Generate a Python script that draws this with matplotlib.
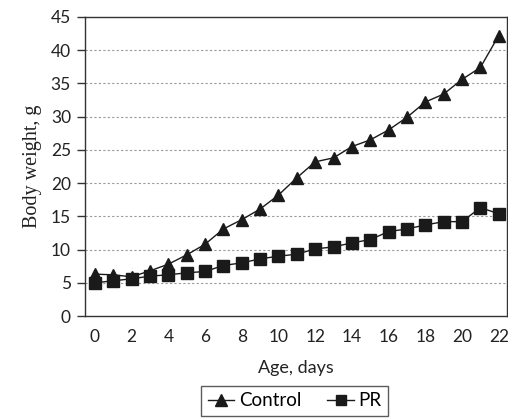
import matplotlib
matplotlib.use("Agg")
import matplotlib.pyplot as plt
from matplotlib.lines import Line2D

# Age in days
days = list(range(0, 23))

# Body weight (g) per group
control = [6.3, 6.2, 5.9, 6.8, 7.8, 9.2, 10.8, 13.1, 14.5, 16.1, 18.2, 20.8,
           23.2, 23.8, 25.5, 26.5, 28.0, 29.9, 32.2, 33.4, 35.6, 37.4, 42.2]
pr = [5.0, 5.3, 5.6, 6.0, 6.2, 6.5, 6.7, 7.6, 8.0, 8.6, 9.0, 9.3,
      10.1, 10.4, 11.0, 11.5, 12.7, 13.1, 13.7, 14.2, 14.2, 16.3, 15.4]

xticks = list(range(0, 23, 2))
yticks = list(range(0, 46, 5))

sans = ["Lato", "DejaVu Sans"]
serif = ["Liberation Serif", "DejaVu Serif"]

fig = plt.figure(figsize=(5.08, 4.2), dpi=100)
ax = fig.add_axes([0.167, 0.2476, 0.831, 0.712])

# Gridlines
for y in yticks[1:-1]:
    ax.axhline(y, color="#999999", linestyle=(0, (2, 2)), linewidth=0.8, zorder=0)

ax.plot(days, control, color="#1a1a1a", linewidth=1.0, marker="^", markersize=9,
        clip_on=False, zorder=3)
ax.plot(days, pr, color="#1a1a1a", linewidth=1.0, marker="s", markersize=8,
        clip_on=False, zorder=3)

ax.set_xlim(-0.55, 22.45)
ax.set_ylim(0, 45)
ax.set_xticks(xticks)
ax.set_yticks(yticks)
ax.tick_params(axis="x", length=0, pad=9, labelsize=12.5)
ax.tick_params(axis="y", direction="out", length=6, width=1, color="#333333",
               pad=4, labelsize=12.5)
for lab in ax.get_xticklabels() + ax.get_yticklabels():
    lab.set_family(sans)
    lab.set_color("#222222")

for s in ax.spines.values():
    s.set_color("#333333")
    s.set_linewidth(1.0)

ax.set_xlabel("Age, days", family=sans, fontsize=13, color="#222222", labelpad=11)
ax.set_ylabel("Body weight, g", family=serif, fontsize=14.5, color="#222222", labelpad=6)

handles = [
    Line2D([], [], color="#1a1a1a", marker="^", markersize=8, linewidth=1.0),
    Line2D([], [], color="#1a1a1a", marker="s", markersize=7, linewidth=1.0),
]
leg = fig.legend(handles, ["Control", "PR"], loc="lower center",
                 bbox_to_anchor=(0.58, -0.012), ncol=2, frameon=True, fancybox=False,
                 handlelength=1.4, handletextpad=0.25, columnspacing=1.4,
                 borderpad=0.35, prop={"family": sans, "size": 13.5})
leg.get_frame().set_edgecolor("#333333")
leg.get_frame().set_linewidth(1.0)

fig.savefig("out.png", dpi=100)
